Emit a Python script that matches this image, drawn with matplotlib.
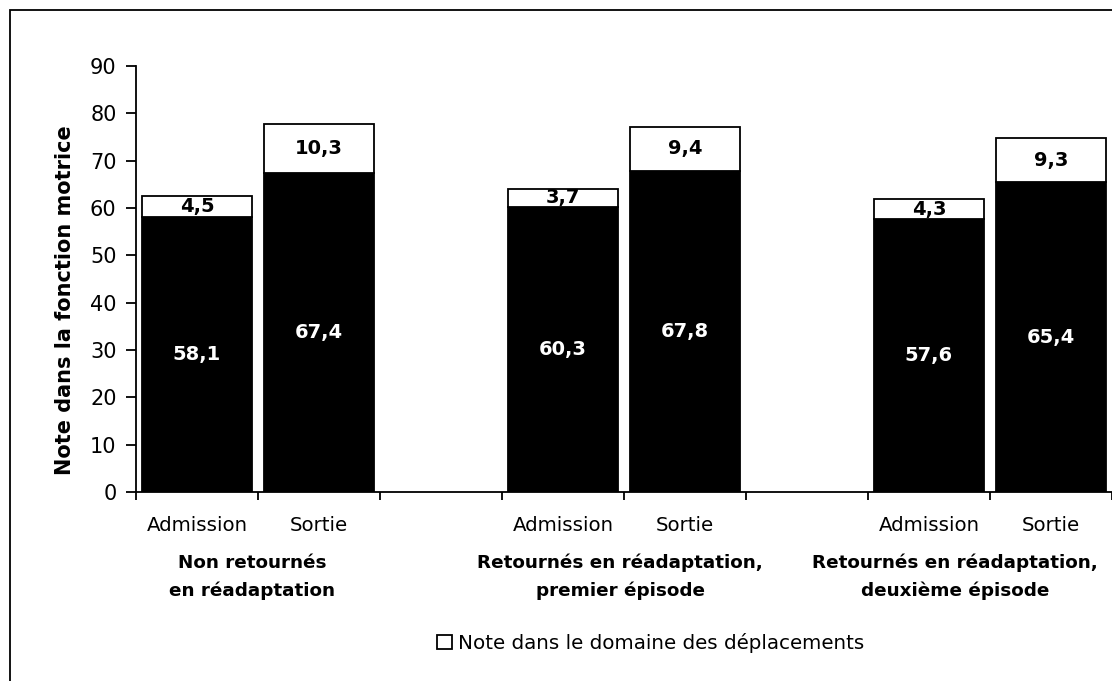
import matplotlib
matplotlib.use("Agg")
import matplotlib.pyplot as plt
from matplotlib.patches import Rectangle, Patch

# ---- data ----
groups = ["Non retournés\nen réadaptation",
          "Retournés en réadaptation,\npremier épisode",
          "Retournés en réadaptation,\ndeuxième épisode"]
phases = ["Admission", "Sortie"]
fonction_motrice = [58.1, 67.4, 60.3, 67.8, 57.6, 65.4]
deplacements = [4.5, 10.3, 3.7, 9.4, 4.3, 9.3]
legend_label = "Note dans le domaine des déplacements"
yticks = [0, 10, 20, 30, 40, 50, 60, 70, 80, 90]
ylabel = "Note dans la fonction motrice"

plt.rcParams['font.family'] = ['DejaVu Sans']

W, H = 1112, 681
fig = plt.figure(figsize=(W / 100, H / 100), dpi=100)
# figure border
fig.patches.append(Rectangle((10 / W, -0.01), 1.02, (H - 10) / H + 0.01,
                             transform=fig.transFigure, fill=False,
                             edgecolor='black', linewidth=1.3))

ax = fig.add_axes([136 / W, 1 - 492 / H, (W - 136) / W, (492 - 66) / H])

# slot positions: two bars per group, an empty slot between groups
xpos = []
for g in range(len(groups)):
    for p in range(len(phases)):
        xpos.append(g * 3 + p)

bw = 0.9
ax.bar(xpos, fonction_motrice, width=bw, color='black', edgecolor='black', linewidth=1.3)
ax.bar(xpos, deplacements, bottom=fonction_motrice, width=bw, color='white',
       edgecolor='black', linewidth=1.3)

for x, a, b in zip(xpos, fonction_motrice, deplacements):
    ax.text(x, a / 2, f"{a:.1f}".replace('.', ','), ha='center', va='center',
            color='white', fontsize=14, fontweight='bold')
    ax.text(x, a + b / 2, f"{b:.1f}".replace('.', ','), ha='center', va='center',
            color='black', fontsize=14, fontweight='bold')

ax.set_ylim(0, 90)
ax.set_yticks(yticks)
ax.set_yticklabels([str(t) for t in yticks], fontsize=15)
xmax = -0.5 + (W - 136) / 122.4
ax.set_xlim(-0.5, xmax)
ax.set_xticks([i - 0.5 for i in range(0, 9)])
ax.set_xticklabels([])
ax.tick_params(axis='x', direction='out', length=6, width=1.3)
ax.tick_params(axis='y', direction='out', length=7, width=1.3, pad=7)
for s in ['top', 'right']:
    ax.spines[s].set_visible(False)
for s in ['left', 'bottom']:
    ax.spines[s].set_linewidth(1.3)

# phase labels
for i, x in enumerate(xpos):
    ax.text(x, -7.0, phases[i % 2], ha='center', va='center', fontsize=14.2,
            clip_on=False)

# group labels (pixel-measured centers)
group_px = [252, 620, 955]
for gx, lab in zip(group_px, groups):
    fig.text(gx / W, 1 - 577 / H, lab, ha='center', va='center', fontsize=13.2,
             fontweight='bold', linespacing=1.65)

fig.text(65 / W, 1 - 300 / H, ylabel, rotation=90, ha='center', va='center',
         fontsize=15, fontweight='bold')

fig.legend(handles=[Patch(facecolor='white', edgecolor='black', linewidth=1.3)],
           labels=[legend_label], loc='center', bbox_to_anchor=(651 / W, 1 - 643 / H),
           frameon=False, fontsize=14.3, handlelength=0.75, handleheight=0.75,
           handletextpad=0.3)

fig.savefig("out.png", dpi=100)
